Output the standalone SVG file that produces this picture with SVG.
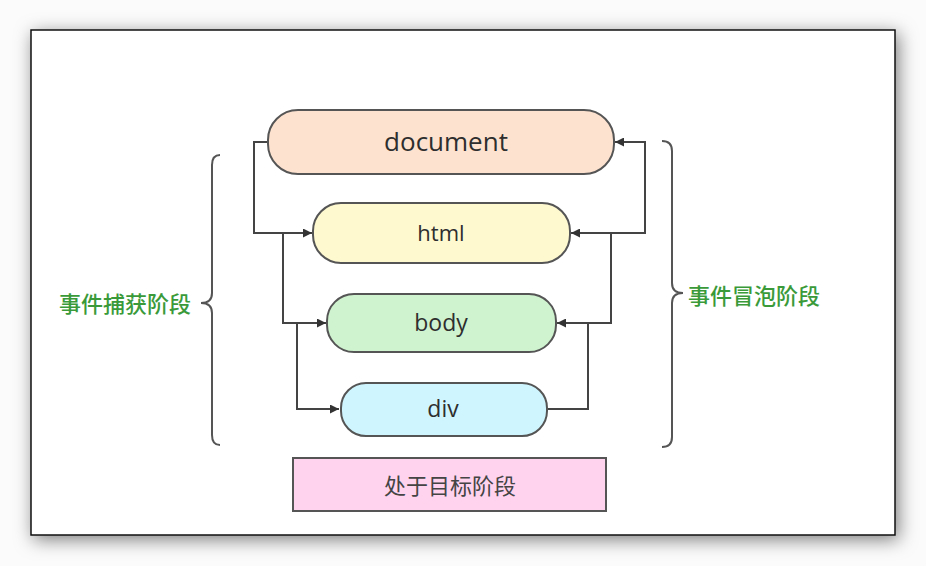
<svg xmlns="http://www.w3.org/2000/svg" width="926" height="566" viewBox="0 0 926 566">
<style>
.node{stroke:#555;stroke-width:2}
.lbl{font-family:"Open Sans","Noto Sans","Noto Sans CJK SC",sans-serif;fill:#2e2e2e;text-anchor:middle;dominant-baseline:central}
.cjk{font-family:"Noto Sans CJK SC","Noto Sans",sans-serif;text-anchor:middle;dominant-baseline:central}
.phase{fill:#3a9a3a;font-size:22px;font-weight:500}
.wire{fill:none;stroke:#444;stroke-width:2}
.brace{fill:none;stroke:#555;stroke-width:2}
</style>
<defs>
<marker id="arr" viewBox="0 0 10 10" refX="10" refY="5" markerWidth="12" markerHeight="9" markerUnits="userSpaceOnUse" orient="auto">
<path d="M0,0 L10,5 L0,10 z" fill="#333"/>
</marker>
<filter id="shadow" x="-10%" y="-15%" width="120%" height="130%">
<feDropShadow dx="3" dy="4" stdDeviation="9" flood-color="#000" flood-opacity="0.5"/>
</filter>
</defs>
<rect x="0" y="0" width="926" height="566" fill="#fbfbfb"/>
<rect x="31" y="30" width="864" height="505" fill="#fff" stroke="#111" stroke-width="1.5" filter="url(#shadow)"/>

<g id="connectors">
<path class="wire" d="M268,142 H254 V233 H312" marker-end="url(#arr)"/>
<path class="wire" d="M283,233 V323 H326" marker-end="url(#arr)"/>
<path class="wire" d="M297,323 V409 H339" marker-end="url(#arr)"/>
<path class="wire" d="M547,409 H588 V323 H557" marker-end="url(#arr)"/>
<path class="wire" d="M588,323 H611 V233 H571" marker-end="url(#arr)"/>
<path class="wire" d="M611,233 H645 V142 H615" marker-end="url(#arr)"/>
</g>

<g id="node-document">
<rect class="node" x="268" y="110" width="346" height="64" rx="30" fill="#fde2cf"/>
<text class="lbl" x="446" y="141" font-size="26">document</text>
</g>
<g id="node-html">
<rect class="node" x="313" y="203" width="257" height="60" rx="28" fill="#fff9d0"/>
<text class="lbl" x="441" y="232" font-size="22">html</text>
</g>
<g id="node-body">
<rect class="node" x="327" y="294" width="229" height="58" rx="27" fill="#cff3cf"/>
<text class="lbl" x="441" y="322" font-size="23">body</text>
</g>
<g id="node-div">
<rect class="node" x="341" y="383" width="206" height="53" rx="25" fill="#cff6ff"/>
<text class="lbl" x="443" y="408" font-size="23">div</text>
</g>
<g id="node-target">
<rect class="node" x="293" y="458" width="313" height="53" fill="#ffd3ee"/>
<text class="cjk" x="450" y="484" font-size="22" fill="#444">处于目标阶段</text>
</g>

<g id="capture-phase">
<path class="brace" d="M220,155 Q212,155 212,165 V293 Q212,303 201,303 Q212,303 212,313 V435 Q212,445 220,445"/>
<text class="cjk phase" x="125" y="302">事件捕获阶段</text>
</g>
<g id="bubble-phase">
<path class="brace" d="M662,141 Q672,141 672,151 V283 Q672,293 683,293 Q672,293 672,303 V437 Q672,447 662,447"/>
<text class="cjk phase" x="754" y="294">事件冒泡阶段</text>
</g>
</svg>
